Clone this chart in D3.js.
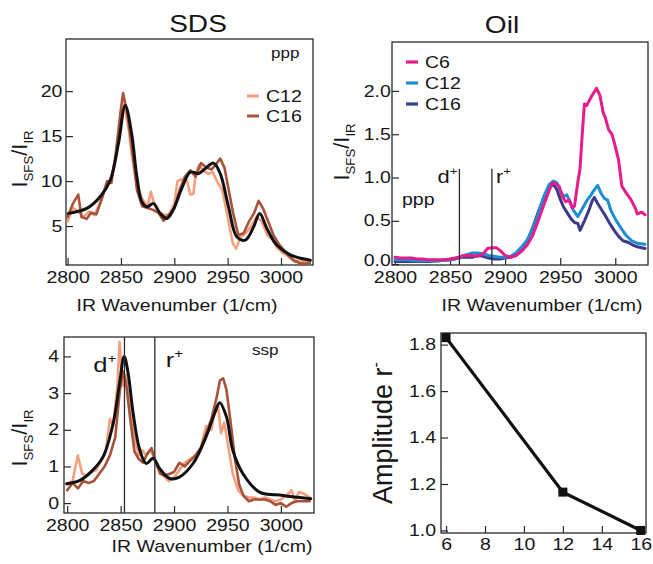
<!DOCTYPE html>
<html><head><meta charset="utf-8">
<script src="https://cdn.jsdelivr.net/npm/d3@7"></script>
<style>
body{margin:0;background:#fff}
svg{display:block}
text{font-family:"Liberation Sans",Arial,Helvetica,sans-serif;fill:#161616}
</style>
</head><body>
<svg id="c" width="653" height="564"></svg>
<script>
// ---------- DATA ----------
const waveTicks = [2800, 2850, 2900, 2950, 3000];
const sdsPppTicks = [5, 10, 15, 20];
const sdsSspTicks = [0, 1, 2, 3, 4];
const oilTicks = [0, 0.5, 1.0, 1.5, 2.0];
const ampXTicks = [6, 8, 10, 12, 14, 16];
const ampYTicks = [1.0, 1.2, 1.4, 1.6, 1.8];

// SDS ppp  [wavenumber, I_SFS/I_IR]
const pppC12 = [[2800,5.5],[2805,7],[2810,6.6],[2815,6],[2820,6.6],[2825,6.2],[2830,7.5],[2835,9],[2840,10],[2845,12.5],[2850,17],[2853,18.5],[2857,16],[2860,13],[2865,9.5],[2870,8],[2875,7.2],[2878,8.8],[2882,7.2],[2886,6.5],[2890,6.3],[2895,6.2],[2900,7.5],[2903,10],[2907,10.2],[2912,10],[2915,8.5],[2918,8.6],[2920,10.8],[2923,11.8],[2927,11.2],[2932,10.8],[2936,11],[2940,10],[2945,9],[2950,6],[2955,3],[2958,2.5],[2962,3.8],[2967,4.2],[2972,5],[2977,6],[2982,5.5],[2987,4],[2992,3.5],[2997,2.5],[3002,2],[3008,1.5],[3013,1],[3018,1.2],[3022,1],[3027,0.9]];
const pppC16 = [[2800,6],[2805,7.5],[2810,8.5],[2813,6],[2818,5.8],[2822,6.5],[2827,6.3],[2832,8],[2837,10],[2841,9.8],[2845,13],[2850,18],[2852,19.8],[2856,17.5],[2860,14],[2865,9],[2870,7.2],[2875,7],[2880,6.8],[2885,6.5],[2890,5.6],[2895,6.3],[2900,7],[2905,9],[2910,10.5],[2915,11.2],[2920,10.5],[2925,12],[2930,11.5],[2935,11.3],[2940,12],[2943,12.5],[2947,11.5],[2951,9],[2955,6.5],[2960,4],[2965,4.2],[2970,5.5],[2975,6.5],[2979,7.8],[2983,7],[2988,5.5],[2993,4],[2998,3],[3003,2.3],[3008,1.6],[3012,1.2],[3017,0.9],[3022,0.8],[3027,0.9]];
const pppFit = [[2800.8,6.41],[2818,6.97],[2830.5,8.26],[2840,10.1],[2847.7,14.2],[2854,18.4],[2860,15.3],[2864.9,10.5],[2869.6,7.7],[2874.3,7.14],[2880.5,7.5],[2886.8,6.4],[2893,5.85],[2899,6.8],[2907,9.2],[2915,11.0],[2922.7,10.85],[2929,11.4],[2936.8,12.0],[2943,10.85],[2950.8,7.14],[2958.6,3.8],[2966.5,3.44],[2974.3,4.9],[2980,6.4],[2986.9,4.7],[2996,2.9],[3008.7,1.8],[3027.5,1.2]];

// SDS ssp
const sspC12 = [[2800,0.5],[2805,0.6],[2810,1.3],[2814,0.8],[2818,0.75],[2822,0.85],[2827,0.9],[2832,1.2],[2836,1.4],[2840,2.3],[2843,2.1],[2847,3.2],[2849,4.4],[2852,3.2],[2855,3.5],[2859,2.5],[2863,1.8],[2867,1.3],[2870,1.45],[2874,1.3],[2878,1.45],[2882,1.2],[2886,0.9],[2890,0.75],[2895,0.6],[2900,0.7],[2905,0.9],[2910,1.1],[2915,1.2],[2920,1.3],[2925,1.5],[2930,2.1],[2935,2.0],[2938,2.5],[2941,2.7],[2944,1.9],[2947,2.2],[2951,1.5],[2955,0.8],[2960,0.35],[2965,0.2],[2970,0.15],[2975,0.15],[2980,0.1],[2985,0.15],[2990,0.1],[2995,0.05],[3000,0.1],[3005,0.2],[3010,0.35],[3013,0.05],[3017,0.3],[3022,0.25],[3027,0.15]];
const sspC16 = [[2800,0.35],[2805,0.55],[2810,0.4],[2815,0.6],[2820,0.55],[2825,0.6],[2830,0.8],[2835,1.0],[2840,1.3],[2845,1.8],[2849,3.0],[2852,3.6],[2855,3.3],[2859,2.3],[2863,1.4],[2867,1.2],[2871,1.1],[2875,1.35],[2879,1.5],[2883,1.1],[2887,0.8],[2891,0.75],[2896,0.8],[2900,0.85],[2905,1.1],[2910,1.0],[2915,1.15],[2920,1.3],[2925,1.5],[2930,1.9],[2935,2.3],[2940,2.9],[2943,3.35],[2946,3.4],[2949,3.1],[2953,2.2],[2957,1.2],[2961,0.5],[2965,0.2],[2970,0.05],[2975,0.1],[2980,0.1],[2985,0.1],[2990,0.05],[2995,-0.05],[3000,0.0],[3005,-0.1],[3010,0.0],[3015,0.05],[3020,0.05],[3027,0.05]];
const sspFit = [[2799.4,0.53],[2812,0.62],[2824,0.9],[2833.6,1.26],[2843,2.17],[2849,3.27],[2853.3,4.0],[2857,3.55],[2861.7,2.45],[2868,1.44],[2874,1.08],[2880.4,1.22],[2886.6,0.94],[2896,0.67],[2905,0.71],[2917.8,1.08],[2930,1.81],[2938,2.45],[2942.7,2.74],[2949,2.36],[2955,1.44],[2964.5,0.8],[2980,0.3],[3002,0.21],[3028,0.12]];

// Oil ppp
const oilC6 = [[2800,0.08],[2805,0.07],[2810,0.07],[2815,0.07],[2820,0.06],[2825,0.06],[2830,0.05],[2835,0.05],[2840,0.05],[2845,0.05],[2850,0.06],[2855,0.07],[2860,0.09],[2865,0.1],[2870,0.1],[2875,0.09],[2880,0.12],[2884,0.18],[2888,0.19],[2892,0.19],[2896,0.15],[2900,0.1],[2905,0.08],[2910,0.1],[2915,0.15],[2920,0.22],[2925,0.33],[2930,0.5],[2935,0.68],[2940,0.85],[2943,0.94],[2946,0.93],[2949,0.9],[2952,0.78],[2955,0.72],[2958,0.74],[2961,0.65],[2963,0.67],[2966,0.95],[2968,1.1],[2970,1.5],[2972,1.85],[2974,1.83],[2976,1.88],[2979,1.95],[2983,2.03],[2986,1.95],[2989,1.75],[2991,1.69],[2994,1.55],[2997,1.5],[3000,1.36],[3003,1.2],[3006,0.9],[3010,0.82],[3014,0.75],[3018,0.65],[3020,0.58],[3024,0.6],[3027,0.57]];
const oilC12 = [[2800,0.05],[2810,0.05],[2820,0.04],[2830,0.04],[2840,0.04],[2850,0.05],[2855,0.07],[2860,0.09],[2865,0.11],[2870,0.13],[2875,0.13],[2880,0.12],[2885,0.1],[2890,0.09],[2895,0.08],[2900,0.08],[2905,0.09],[2910,0.13],[2915,0.2],[2920,0.28],[2925,0.4],[2930,0.58],[2935,0.78],[2940,0.92],[2944,0.96],[2947,0.94],[2950,0.85],[2953,0.78],[2956,0.8],[2959,0.72],[2962,0.62],[2966,0.55],[2970,0.64],[2974,0.73],[2978,0.8],[2981,0.86],[2984,0.91],[2987,0.82],[2990,0.76],[2993,0.74],[2996,0.62],[3000,0.52],[3005,0.42],[3010,0.33],[3015,0.27],[3020,0.24],[3027,0.23]];
const oilC16 = [[2800,0.03],[2810,0.03],[2820,0.03],[2830,0.03],[2840,0.04],[2850,0.05],[2855,0.06],[2860,0.08],[2865,0.08],[2870,0.08],[2875,0.1],[2880,0.09],[2885,0.07],[2890,0.06],[2895,0.06],[2900,0.07],[2905,0.08],[2910,0.11],[2915,0.16],[2920,0.27],[2925,0.42],[2930,0.6],[2935,0.76],[2940,0.88],[2944,0.92],[2947,0.86],[2950,0.75],[2953,0.66],[2956,0.6],[2960,0.52],[2963,0.48],[2966,0.47],[2968,0.39],[2972,0.5],[2976,0.62],[2979,0.73],[2981,0.77],[2984,0.7],[2988,0.62],[2991,0.56],[2995,0.47],[2999,0.39],[3003,0.32],[3007,0.27],[3012,0.25],[3016,0.22],[3020,0.2],[3027,0.18]];

// Amplitude r- vs chain length
const chainLength = [6, 12, 16];
const amplitude = [1.83, 1.165, 1.0];

// mode markers
const oilModes = [{name:"d", pos:2858.5}, {name:"r", pos:2888}];
const sspModes = [{name:"d", pos:2853.6}, {name:"r", pos:2882}];

const sdsColors = {C12:"#f4a07f", C16:"#a8523b", fit:"#111111"};
const oilColors = {C6:"#e81b8c", C12:"#1b8fd2", C16:"#3d3a8c"};

// ---------- DRAW ----------
const SX = 1.22;
const svg = d3.select("#c");
const INK = "#2a2a2a";

function addParts(t, parts, size){
  let cur = 0;
  parts.forEach(p => {
    const s = (typeof p === "string") ? {t:p} : p;
    const sh = s.sup ? -size*0.42 : (s.sub ? size*0.28 : 0);
    t.append("tspan").attr("dy", sh - cur)
      .attr("font-size", (s.sup || s.sub) ? size*0.6 : size).text(s.t);
    cur = sh;
  });
}
function htext(x, y, parts, size, anchor){
  const g = svg.append("g").attr("transform", `translate(${x},${y}) scale(${SX},1)`);
  const t = g.append("text").attr("text-anchor", anchor || "start").attr("font-size", size);
  addParts(t, parts, size);
  return t;
}
function vtext(x, y, parts, size){
  const t = svg.append("text").attr("transform", `translate(${x},${y}) rotate(-90)`)
    .attr("text-anchor", "middle").attr("font-size", size);
  addParts(t, parts, size);
  return t;
}

function panel(c){
  const x = d3.scaleLinear().domain(c.xd).range([c.x0, c.x1]);
  const y = d3.scaleLinear().domain(c.yd).range([c.y1, c.y0]);
  const g = svg.append("g");
  const ax = g.append("g").attr("transform", `translate(0,${c.y1})`)
    .call(d3.axisBottom(x).tickValues(c.xt).tickSizeInner(-7).tickSizeOuter(0)
      .tickPadding(c.xpad || 7).tickFormat(c.xf || d3.format("d")));
  const ay = g.append("g").attr("transform", `translate(${c.x0},0)`)
    .call(d3.axisLeft(y).tickValues(c.yt).tickSizeInner(-7).tickSizeOuter(0)
      .tickPadding(c.ypad || 3).tickFormat(c.yf || d3.format("d")));
  [ax, ay].forEach(a => {
    a.select(".domain").remove();
    a.selectAll(".tick line").attr("stroke", INK).attr("stroke-width", 1.2);
    a.selectAll(".tick text").attr("font-size", c.fs || 16).attr("fill", "#161616")
      .attr("font-family", '"Liberation Sans",Arial,sans-serif')
      .attr("transform", `scale(${SX},1)`);
  });
  if (c.lift0) {
    ay.selectAll(".tick").filter(d => d === 0).select("text").attr("y", -c.lift0);
  }
  g.append("rect").attr("x", c.x0).attr("y", c.y0)
    .attr("width", c.x1 - c.x0).attr("height", c.y1 - c.y0)
    .attr("fill", "none").attr("stroke", INK).attr("stroke-width", 1.3);
  const clipId = "clip" + Math.round(c.x0) + Math.round(c.y0);
  svg.append("clipPath").attr("id", clipId).append("rect")
    .attr("x", c.x0).attr("y", c.y0).attr("width", c.x1 - c.x0).attr("height", c.y1 - c.y0);
  const plot = g.append("g").attr("clip-path", `url(#${clipId})`);
  return {x, y, g, plot};
}

const lineGen = (p, curve) => d3.line().x(d => p.x(d[0])).y(d => p.y(d[1])).curve(curve || d3.curveLinear);
function series(p, data, color, w, curve){
  p.plot.append("path").datum(data).attr("d", lineGen(p, curve))
    .attr("fill", "none").attr("stroke", color).attr("stroke-width", w)
    .attr("stroke-linejoin", "round").attr("stroke-linecap", "round");
}
const smooth = d3.curveCatmullRom.alpha(0.5);

// Panel 1: SDS ppp
const p1 = panel({x0:66, x1:313, y0:39, y1:265, xd:[2798.5, 3030], yd:[0.67, 25.8],
  xt:waveTicks, yt:sdsPppTicks, ypad:3});
series(p1, pppC12, sdsColors.C12, 2.6);
series(p1, pppC16, sdsColors.C16, 2.6);
series(p1, pppFit, sdsColors.fit, 3, smooth);
htext(271, 58, ["ppp"], 14);
[["C12", sdsColors.C12, 96], ["C16", sdsColors.C16, 116]].forEach(([n, col, yy]) => {
  svg.append("line").attr("x1", 247).attr("x2", 259).attr("y1", yy).attr("y2", yy)
    .attr("stroke", col).attr("stroke-width", 3);
  htext(266, yy + 6, [n], 16);
});
vtext(27, 159, ["I", {t:"SFS", sub:true}, "/I", {t:"IR", sub:true}], 22);
htext(177, 311, ["IR Wavenumber (1/cm)"], 16, "middle");
htext(198, 32, ["SDS"], 23, "middle");

// Panel 2: Oil ppp
const p2 = panel({x0:392, x1:648, y0:42, y1:265, xd:[2797.3, 3029.7], yd:[-0.01, 2.565],
  xt:waveTicks, yt:oilTicks, yf:d3.format(".1f"), ypad:1, lift0:4});
oilModes.forEach(m => {
  p2.g.append("line").attr("x1", p2.x(m.pos)).attr("x2", p2.x(m.pos))
    .attr("y1", p2.y(1.1)).attr("y2", p2.y.range()[0])
    .attr("stroke", INK).attr("stroke-width", 1.3);
});
series(p2, oilC16, oilColors.C16, 3);
series(p2, oilC12, oilColors.C12, 3);
series(p2, oilC6, oilColors.C6, 3);
htext(p2.x(oilModes[0].pos) - 2, 183, ["d", {t:"+", sup:true}], 18, "end");
htext(p2.x(oilModes[1].pos) + 4, 183, ["r", {t:"+", sup:true}], 18, "start");
htext(402, 205, ["ppp"], 16);
[["C6", oilColors.C6, 62], ["C12", oilColors.C12, 83], ["C16", oilColors.C16, 104]].forEach(([n, col, yy]) => {
  svg.append("line").attr("x1", 406).attr("x2", 418).attr("y1", yy).attr("y2", yy)
    .attr("stroke", col).attr("stroke-width", 3.2);
  htext(425, yy + 6, [n], 16);
});
vtext(349, 152, ["I", {t:"SFS", sub:true}, "/I", {t:"IR", sub:true}], 22);
htext(542, 311, ["IR Wavenumber (1/cm)"], 16, "middle");
htext(502, 33, ["Oil"], 23, "middle");

// Panel 3: SDS ssp
const p3 = panel({x0:64, x1:314, y0:337, y1:513, xd:[2797, 3031], yd:[-0.27, 4.53],
  xt:waveTicks, yt:sdsSspTicks, ypad:4});
sspModes.forEach(m => {
  p3.g.append("line").attr("x1", p3.x(m.pos)).attr("x2", p3.x(m.pos))
    .attr("y1", p3.y.range()[1]).attr("y2", p3.y.range()[0])
    .attr("stroke", INK).attr("stroke-width", 1.3);
});
series(p3, sspC12, sdsColors.C12, 2.6);
series(p3, sspC16, sdsColors.C16, 2.6);
series(p3, sspFit, sdsColors.fit, 3, smooth);
htext(p3.x(sspModes[0].pos) - 8, 372, ["d", {t:"+", sup:true}], 21, "end");
htext(p3.x(sspModes[1].pos) + 11, 367, ["r", {t:"+", sup:true}], 21, "start");
htext(252, 355, ["ssp"], 14);
vtext(27, 438, ["I", {t:"SFS", sub:true}, "/I", {t:"IR", sub:true}], 22);
htext(212, 552, ["IR Wavenumber (1/cm)"], 16, "middle");

// Panel 4: amplitude
const p4 = panel({x0:441, x1:646, y0:333, y1:533, xd:[5.74, 16.27], yd:[0.989, 1.85],
  xt:ampXTicks, yt:ampYTicks, yf:d3.format(".1f"), ypad:4, xpad:6, fs:16});
const ampData = chainLength.map((c, i) => [c, amplitude[i]]);
p4.g.append("path").datum(ampData).attr("d", lineGen(p4))
  .attr("fill", "none").attr("stroke", "#111").attr("stroke-width", 3.2);
p4.g.selectAll("rect.mk").data(ampData).join("rect").attr("class", "mk")
  .attr("x", d => p4.x(d[0]) - 4.5).attr("y", d => p4.y(d[1]) - 4.5)
  .attr("width", 9).attr("height", 9).attr("fill", "#111");
svg.append("text").attr("transform", "translate(392,433) rotate(-90)")
  .attr("text-anchor", "middle").attr("font-size", 27)
  .call(t => addParts(t, ["Amplitude r", {t:"-", sup:true}], 27));
htext(577, 578, ["C", {t:"n", sub:true}], 20, "middle");
</script>
</body></html>
